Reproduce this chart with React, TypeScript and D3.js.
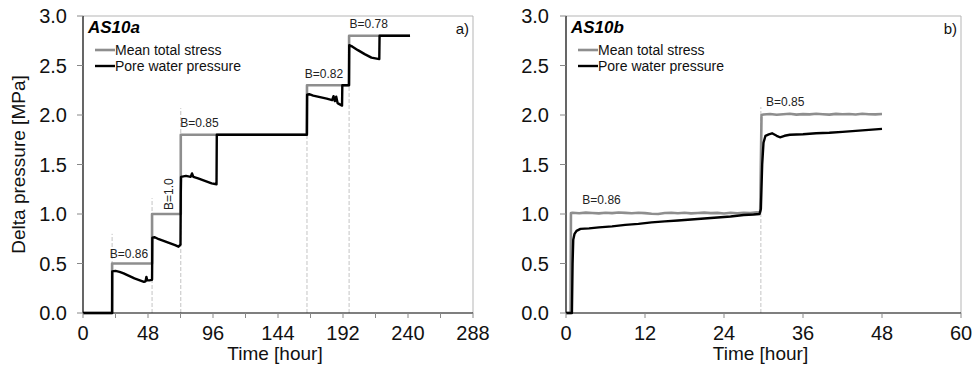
import React from "react";
import * as d3 from "d3";

// ---------- Panel a) AS10a ----------
const stressATime = [0, 21.5, 21.5, 51, 51, 72.2, 72.2, 165.4, 165.4, 196.5, 196.5, 241.5];
const stressAVal = [0, 0, 0.5, 0.5, 1.0, 1.0, 1.8, 1.8, 2.3, 2.3, 2.8, 2.8];

const poreATime = [0, 21.5, 21.6, 24, 27, 30, 34, 38, 42, 45, 46.2, 46.8, 47.4, 49, 50.8, 51, 51.2, 53, 56, 60, 64, 68, 70.5, 72.0, 72.2, 72.4, 76, 79.5, 80.5, 81.5, 85, 90, 95, 98.6, 98.8, 120, 150, 165.3, 165.5, 167, 170, 175, 180, 184, 185, 186, 187, 188, 191.3, 191.5, 196.4, 196.6, 199, 203, 208, 213, 218.8, 219, 241.5];
const poreAVal = [0, 0, 0.42, 0.425, 0.415, 0.40, 0.375, 0.35, 0.33, 0.315, 0.32, 0.365, 0.33, 0.33, 0.335, 0.34, 0.76, 0.765, 0.745, 0.725, 0.705, 0.685, 0.67, 0.69, 1.2, 1.375, 1.385, 1.375, 1.41, 1.375, 1.36, 1.335, 1.31, 1.30, 1.80, 1.80, 1.80, 1.80, 2.205, 2.21, 2.195, 2.18, 2.165, 2.15, 2.19, 2.14, 2.185, 2.12, 2.095, 2.30, 2.30, 2.705, 2.69, 2.655, 2.615, 2.58, 2.565, 2.80, 2.80];

const dashA = [21.5, 51, 72.2, 165.4, 196.5];
const dashATop = [0.8, 1.16, 2.07, 2.3, 2.3];

const labelsA = ["B=0.86", "B=1.0", "B=0.85", "B=0.82", "B=0.78"];
const labelAX = [34, 63, 86, 178, 211];
const labelAY = [0.6, 1.2, 1.92, 2.42, 2.92];
const labelARot = [0, -90, 0, 0, 0];

// ---------- Panel b) AS10b ----------
const stressBTime = [0, 0.7, 0.75, 1, 2, 3, 4, 5, 6, 7, 8, 9, 10, 11, 12, 13, 14, 15, 16, 17, 18, 19, 20, 21, 22, 23, 24, 25, 26, 27, 28, 29, 29.5, 29.7, 30, 31, 32, 33, 34, 35, 36, 37, 38, 39, 40, 41, 42, 43, 44, 45, 46, 47, 48];
const stressBVal = [0, 0, 1.01, 1.012, 1.008, 1.014, 1.010, 1.006, 1.013, 1.009, 1.015, 1.011, 1.007, 1.012, 1.009, 1.003, 1.0, 1.010, 1.013, 1.008, 1.012, 1.006, 1.010, 1.014, 1.009, 1.011, 1.005, 1.012, 1.008, 1.013, 1.010, 1.016, 1.02, 2.0, 2.005, 2.010, 2.003, 2.008, 2.012, 2.004, 2.009, 2.006, 2.013, 2.008, 2.004, 2.011, 2.007, 2.010, 2.005, 2.012, 2.008, 2.006, 2.010];

const poreBTime = [0, 0.9, 1.0, 1.1, 1.3, 1.6, 2.2, 3.5, 5, 7, 9, 11, 13, 15, 17, 19, 21, 23, 25, 27, 28.5, 29.4, 29.6, 29.8, 30.0, 30.3, 30.8, 31.3, 32, 32.5, 33.2, 34, 36, 38, 40, 42, 44, 46, 48];
const poreBVal = [0, 0, 0.5, 0.74, 0.8, 0.83, 0.85, 0.855, 0.865, 0.875, 0.89, 0.9, 0.915, 0.925, 0.935, 0.945, 0.955, 0.965, 0.975, 0.99, 0.995, 1.0, 1.05, 1.5, 1.72, 1.79, 1.805, 1.815, 1.79, 1.775, 1.79, 1.80, 1.805, 1.815, 1.82, 1.83, 1.84, 1.85, 1.86];

const dashB = [29.6];
const dashBTop = [2.08];

const labelsB = ["B=0.86", "B=0.85"];
const labelBX = [5.4, 33.3];
const labelBY = [1.14, 2.13];

const yTicks = [0, 0.5, 1.0, 1.5, 2.0, 2.5, 3.0];
const xTicksA = [0, 48, 96, 144, 192, 240, 288];
const xMinorA = [24, 72, 120, 168, 216, 264];
const xTicksB = [0, 12, 24, 36, 48, 60];

const legendNames = ["Mean total stress", "Pore water pressure"];
const GRAY = "#8e8e8e";
const FONT = "'Liberation Sans', Arial, sans-serif";

type PanelProps = {
  x0: number; x1: number; xMax: number;
  xTicks: number[]; xMinor: number[];
  stressT: number[]; stressV: number[];
  poreT: number[]; poreV: number[];
  dashT: number[]; dashTop: number[];
  labels: string[]; labelX: number[]; labelY: number[]; labelRot: number[];
  title: string; tag: string; showYLabel: boolean; yLabelRight: number;
};

function Panel(p: PanelProps) {
  const y0 = 313, y1 = 16;
  const x = d3.scaleLinear().domain([0, p.xMax]).range([p.x0, p.x1]);
  const y = d3.scaleLinear().domain([0, 3]).range([y0, y1]);
  const line = d3.line<[number, number]>().x(d => x(d[0])).y(d => y(d[1]));
  const stress = line(p.stressT.map((t, i) => [t, p.stressV[i]] as [number, number]))!;
  const pore = line(p.poreT.map((t, i) => [t, p.poreV[i]] as [number, number]))!;
  const cx = (p.x0 + p.x1) / 2;
  return (
    <g fontFamily={FONT}>
      {/* frame */}
      <line x1={p.x0} x2={p.x1} y1={y1} y2={y1} stroke="#b5b5b5" strokeWidth={1} />
      <line x1={p.x1} x2={p.x1} y1={y1} y2={y0} stroke="#b5b5b5" strokeWidth={1} />
      {/* dashed markers */}
      {p.dashT.map((t, i) => (
        <line key={"d" + i} x1={x(t)} x2={x(t)} y1={y(0)} y2={y(p.dashTop[i])}
          stroke="#c4c4c4" strokeWidth={1} strokeDasharray="4,2" />
      ))}
      {/* series */}
      <path d={stress} fill="none" stroke={GRAY} strokeWidth={2.6} strokeLinejoin="round" />
      <path d={pore} fill="none" stroke="#000" strokeWidth={2.4} strokeLinejoin="round" />
      {/* axes */}
      <line x1={p.x0} x2={p.x0} y1={y1} y2={y0} stroke="#000" strokeWidth={1.2} />
      <line x1={p.x0} x2={p.x1} y1={y0} y2={y0} stroke="#000" strokeWidth={1.2} />
      {yTicks.map(v => (
        <g key={"y" + v}>
          <line x1={p.x0 - 6} x2={p.x0} y1={y(v)} y2={y(v)} stroke="#888" strokeWidth={1} />
          <text x={p.yLabelRight} y={y(v)} dy="0.35em" textAnchor="end" fontSize={20} fill="#111">{v.toFixed(1)}</text>
        </g>
      ))}
      {p.xTicks.map(v => (
        <g key={"x" + v}>
          <line x1={x(v)} x2={x(v)} y1={y0} y2={y0 + 5} stroke="#888" strokeWidth={1} />
          <text x={x(v)} y={340} textAnchor="middle" fontSize={20} fill="#111">{v}</text>
        </g>
      ))}
      {p.xMinor.map(v => (
        <line key={"m" + v} x1={x(v)} x2={x(v)} y1={y0} y2={y0 + 5} stroke="#888" strokeWidth={1} />
      ))}
      <text x={cx - 3} y={360} textAnchor="middle" fontSize={19} fill="#111">Time [hour]</text>
      {p.showYLabel && (
        <text transform={`translate(25,${(y0 + y1) / 2}) rotate(-90)`} textAnchor="middle" fontSize={19} fill="#111">Delta pressure [MPa]</text>
      )}
      {/* title & tag */}
      <text x={p.x0 + 5} y={33} fontSize={17} fontWeight="bold" fontStyle="italic" fill="#000">{p.title}</text>
      <text x={p.x1 - 4} y={34} textAnchor="end" fontSize={15} fill="#111">{p.tag}</text>
      {/* legend */}
      {legendNames.map((n, i) => (
        <g key={n}>
          <line x1={p.x0 + 12} x2={p.x0 + 32} y1={50 + i * 16} y2={50 + i * 16}
            stroke={i === 0 ? GRAY : "#000"} strokeWidth={i === 0 ? 2.6 : 2.4} />
          <text x={p.x0 + 32} y={50 + i * 16} dy="0.35em" fontSize={14} fill="#111">{n}</text>
        </g>
      ))}
      {/* B labels */}
      {p.labels.map((l, i) => (
        <text key={"l" + i} transform={`translate(${x(p.labelX[i])},${y(p.labelY[i])}) rotate(${p.labelRot[i]})`}
          textAnchor="middle" dy="0.35em" fontSize={12} fill="#222">{l}</text>
      ))}
    </g>
  );
}

export default function App() {
  return (
    <svg width={974} height={369} style={{ position: "absolute", left: 0, top: 0, background: "#fff" }}>
      <rect width={974} height={369} fill="#fff" />
      <Panel x0={83} x1={473} xMax={288} xTicks={xTicksA} xMinor={xMinorA}
        stressT={stressATime} stressV={stressAVal} poreT={poreATime} poreV={poreAVal}
        dashT={dashA} dashTop={dashATop} labels={labelsA} labelX={labelAX} labelY={labelAY} labelRot={labelARot}
        title="AS10a" tag="a)" showYLabel={true} yLabelRight={67} />
      <Panel x0={566} x1={961} xMax={60} xTicks={xTicksB} xMinor={[]}
        stressT={stressBTime} stressV={stressBVal} poreT={poreBTime} poreV={poreBVal}
        dashT={dashB} dashTop={dashBTop} labels={labelsB} labelX={labelBX} labelY={labelBY} labelRot={[0, 0]}
        title="AS10b" tag="b)" showYLabel={false} yLabelRight={549} />
    </svg>
  );
}
